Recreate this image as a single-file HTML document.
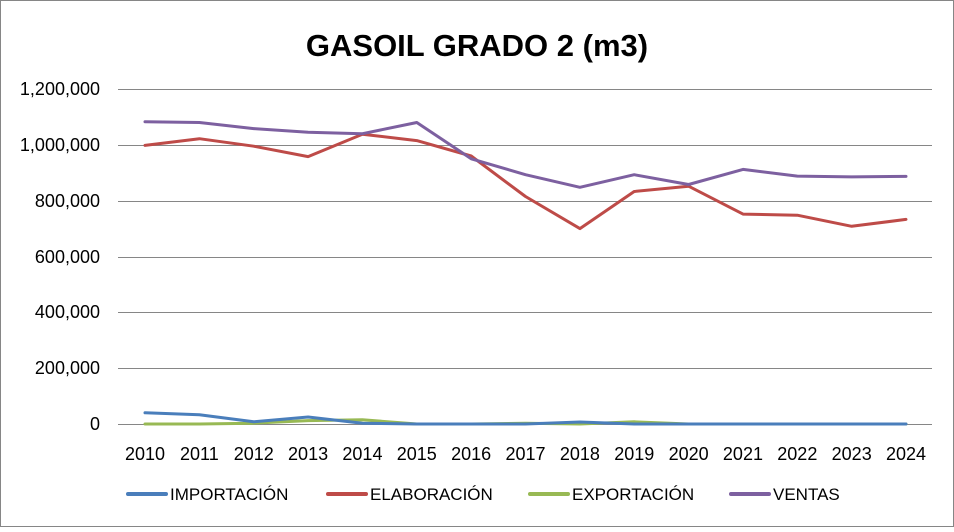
<!DOCTYPE html>
<html><head><meta charset="utf-8"><style>
html,body{margin:0;padding:0;background:#fff}
svg text{font-family:"Liberation Sans",sans-serif;fill:#000}
</style></head><body>
<svg id="s" width="954" height="527" viewBox="0 0 954 527" xmlns="http://www.w3.org/2000/svg">
<rect x="0.5" y="0.5" width="953" height="526" fill="#fff" stroke="#868686"/>
<text x="477" y="56" text-anchor="middle" font-size="31" font-weight="bold">GASOIL GRADO 2 (m3)</text>
<g stroke="#868686" stroke-width="1">
<line x1="118" x2="932" y1="89.5" y2="89.5"/>
<line x1="118" x2="932" y1="145.5" y2="145.5"/>
<line x1="118" x2="932" y1="201.5" y2="201.5"/>
<line x1="118" x2="932" y1="257.5" y2="257.5"/>
<line x1="118" x2="932" y1="312.5" y2="312.5"/>
<line x1="118" x2="932" y1="368.5" y2="368.5"/>
<line x1="118" x2="932" y1="424.5" y2="424.5"/>
</g>
<g font-size="18" text-anchor="end">
<text x="100" y="95">1,200,000</text>
<text x="100" y="151">1,000,000</text>
<text x="100" y="207">800,000</text>
<text x="100" y="263">600,000</text>
<text x="100" y="318">400,000</text>
<text x="100" y="374">200,000</text>
<text x="100" y="430">0</text>
</g>
<g id="xl" font-size="18" text-anchor="middle"></g>
<g id="ln" fill="none" stroke-width="3" stroke-linejoin="round" stroke-linecap="round"></g>
<g font-size="17">
<line x1="128" x2="166" y1="494" y2="494" stroke="#4a7ebb" stroke-width="4" stroke-linecap="round"/>
<text x="170" y="500">IMPORTACIÓN</text>
<line x1="328" x2="366" y1="494" y2="494" stroke="#be4b48" stroke-width="4" stroke-linecap="round"/>
<text x="370" y="500">ELABORACIÓN</text>
<line x1="530" x2="568" y1="494" y2="494" stroke="#98b954" stroke-width="4" stroke-linecap="round"/>
<text x="572" y="500">EXPORTACIÓN</text>
<line x1="731" x2="769" y1="494" y2="494" stroke="#7d60a0" stroke-width="4" stroke-linecap="round"/>
<text x="773" y="500">VENTAS</text>
</g>
</svg>
<script>
var NS="http://www.w3.org/2000/svg";
var xl=document.getElementById("xl"),ln=document.getElementById("ln");
function X(i){return 145+i*54.36}
function Y(v){return 424-v*335/1200000}
for(var i=0;i<15;i++){var t=document.createElementNS(NS,"text");t.setAttribute("x",X(i));t.setAttribute("y",460);t.textContent=2010+i;xl.appendChild(t);}
var S=[
["#98b954",[0,0,3000,12000,15000,0,0,3000,0,8000,0,0,0,0,0]],
["#4a7ebb",[40000,33000,8000,25000,3000,0,0,0,7000,0,0,0,0,0,0]],
["#be4b48",[998000,1022000,995000,958000,1038000,1015000,960000,815000,700000,833000,852000,752000,748000,708000,733000]],
["#7d60a0",[1083000,1080000,1058000,1045000,1040000,1080000,950000,893000,848000,893000,858000,912000,888000,885000,887000]]
];
S.forEach(function(s){var p=document.createElementNS(NS,"polyline");p.setAttribute("stroke",s[0]);p.setAttribute("points",s[1].map(function(v,i){return X(i).toFixed(1)+","+Y(v).toFixed(1)}).join(" "));ln.appendChild(p);});
</script>
</body></html>
